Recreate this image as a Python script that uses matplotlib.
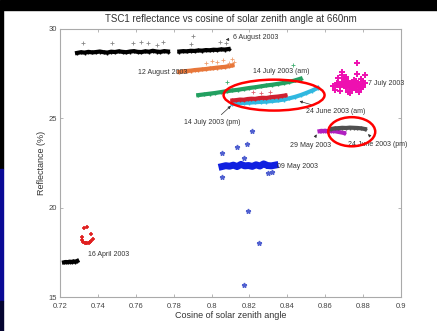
import matplotlib
matplotlib.use('Agg')
import matplotlib.pyplot as plt
from matplotlib.patches import Ellipse, Rectangle

plt.rcParams['font.family'] = ['Liberation Sans', 'DejaVu Sans']

# 6 August 2003 (black, two passes)
aug6_x = [0.729, 0.731, 0.733, 0.735, 0.737, 0.739, 0.741, 0.743, 0.745, 0.747,
          0.749, 0.751, 0.753, 0.755, 0.757, 0.759, 0.761, 0.763, 0.765, 0.767,
          0.769, 0.771, 0.773, 0.775, 0.777]
aug6_y = [28.66, 28.70, 28.68, 28.72, 28.69, 28.71, 28.74, 28.70, 28.68, 28.73,
          28.71, 28.75, 28.72, 28.70, 28.74, 28.76, 28.72, 28.71, 28.75, 28.73,
          28.78, 28.74, 28.72, 28.76, 28.74]
aug6b_x = [0.783, 0.785, 0.787, 0.789, 0.791, 0.793, 0.795, 0.797, 0.799, 0.801,
           0.803, 0.805, 0.807, 0.809]
aug6b_y = [28.74, 28.76, 28.75, 28.78, 28.77, 28.80, 28.79, 28.82, 28.81, 28.84,
           28.83, 28.86, 28.85, 28.88]
aug6_out_x = [0.732, 0.7475, 0.7585, 0.763, 0.7665, 0.771, 0.7744, 0.789, 0.790, 0.8045, 0.8075]
aug6_out_y = [29.20, 29.20, 29.20, 29.27, 29.20, 29.10, 29.27, 29.15, 29.60, 29.30, 29.20]

# 12 August 2003 (orange)
aug12_x = [0.783, 0.785, 0.787, 0.789, 0.791, 0.793, 0.795, 0.797, 0.799, 0.801,
           0.803, 0.805, 0.807, 0.809, 0.811]
aug12_y = [27.60, 27.63, 27.65, 27.67, 27.70, 27.72, 27.74, 27.76, 27.79, 27.81,
           27.84, 27.86, 27.88, 27.92, 27.96]
aug12_out_x = [0.797, 0.800, 0.803, 0.806, 0.809, 0.811, 0.812]
aug12_out_y = [28.10, 28.20, 28.15, 28.25, 28.10, 28.30, 28.15]

# 14 July 2003 am (green)
jul14am_x = [0.793, 0.796, 0.799, 0.802, 0.805, 0.808, 0.811, 0.814, 0.817, 0.820,
             0.823, 0.826, 0.829, 0.832, 0.835, 0.838, 0.841, 0.844, 0.847]
jul14am_y = [26.30, 26.34, 26.38, 26.42, 26.47, 26.52, 26.56, 26.60, 26.65, 26.70,
             26.74, 26.79, 26.84, 26.88, 26.93, 26.98, 27.04, 27.12, 27.22]
jul14am_out_x = [0.808, 0.843]
jul14am_out_y = [27.03, 27.98]

# 24 June 2003 am (cyan)
jun24am_x = [0.811, 0.814, 0.817, 0.820, 0.823, 0.826, 0.829, 0.832, 0.835, 0.838,
             0.841, 0.844, 0.847, 0.850, 0.853, 0.856]
jun24am_y = [25.82, 25.84, 25.86, 25.88, 25.90, 25.92, 25.94, 25.97, 26.00, 26.05,
             26.12, 26.20, 26.30, 26.42, 26.55, 26.70]

# 14 July 2003 pm (red)
jul14pm_x = [0.811, 0.813, 0.815, 0.817, 0.819, 0.821, 0.823, 0.825, 0.827, 0.829,
             0.831, 0.833, 0.835, 0.837, 0.839]
jul14pm_y = [26.00, 26.02, 26.05, 26.04, 26.08, 26.10, 26.09, 26.13, 26.15, 26.14,
             26.18, 26.20, 26.22, 26.25, 26.28]
jul14pm_out_x = [0.822, 0.826, 0.831]
jul14pm_out_y = [26.45, 26.40, 26.50]

# 7 July 2003 (magenta cloud)
jul7_x = [0.864, 0.866, 0.867, 0.868, 0.869, 0.870, 0.871, 0.872, 0.873, 0.874,
          0.875, 0.876, 0.877, 0.878, 0.879, 0.880, 0.881, 0.865, 0.868, 0.870,
          0.872, 0.874, 0.876, 0.878, 0.880, 0.867, 0.871, 0.875, 0.879, 0.873,
          0.869, 0.877, 0.869, 0.877, 0.881, 0.870, 0.872, 0.874, 0.876, 0.878,
          0.871, 0.873, 0.875, 0.877, 0.879, 0.866, 0.868, 0.880, 0.874, 0.876]
jul7_y = [26.80, 26.85, 26.95, 26.75, 27.05, 26.90, 26.70, 27.10, 26.85, 26.95,
          27.15, 26.80, 27.00, 26.90, 27.20, 26.85, 26.95, 26.60, 26.55, 27.20,
          26.50, 26.65, 26.60, 26.45, 27.10, 27.25, 27.30, 26.70, 26.65, 26.40,
          27.60, 27.50, 27.40, 28.10, 27.45, 26.80, 26.90, 26.80, 26.95, 26.80,
          26.95, 26.75, 26.90, 26.75, 26.85, 26.95, 26.85, 26.75, 27.05, 27.10]

# 29 May 2003 (purple) and 24 June 2003 pm (dark grey)
may29_x = [0.857, 0.858, 0.859, 0.860, 0.861, 0.862, 0.863, 0.864, 0.870]
may29_y = [24.28, 24.30, 24.29, 24.31, 24.28, 24.30, 24.29, 24.30, 24.18]
jun24pm_x = [0.863, 0.865, 0.867, 0.869, 0.871, 0.873, 0.875, 0.877, 0.879, 0.881]
jun24pm_y = [24.40, 24.44, 24.45, 24.47, 24.46, 24.48, 24.47, 24.46, 24.44, 24.40]

# 09 May 2003 (blue)
may9_x = [0.8055, 0.8075, 0.8095, 0.8115, 0.8135, 0.8155, 0.8175, 0.8195, 0.8215, 0.8235,
          0.8255, 0.8275, 0.8295, 0.8315, 0.8335]
may9_y = [22.30, 22.35, 22.32, 22.38, 22.30, 22.42, 22.34, 22.36, 22.31, 22.40,
          22.33, 22.45, 22.36, 22.34, 22.38]
may9_out_x = [0.8213, 0.8134, 0.8187, 0.8055, 0.8055, 0.817, 0.8298, 0.832, 0.819, 0.825, 0.817]
may9_out_y = [24.29, 23.40, 23.56, 23.06, 21.72, 22.78, 21.94, 21.98, 19.81, 18.02, 15.67]

# 16 April 2003 (red ring and black run)
apr16_x = [0.7316, 0.7322, 0.7330, 0.7338, 0.7345, 0.7352, 0.7360, 0.7366, 0.7372, 0.7318,
           0.7326, 0.7340, 0.7364]
apr16_y = [18.20, 18.10, 18.05, 18.02, 18.04, 18.02, 18.06, 18.15, 18.25, 18.35,
           18.85, 18.90, 18.55]
apr16b_x = [0.7221, 0.7231, 0.7241, 0.7251, 0.7261, 0.7271, 0.7281, 0.7291]
apr16b_y = [16.94, 16.96, 16.95, 16.98, 16.96, 16.99, 16.97, 17.02]

fig = plt.figure(figsize=(4.37, 3.31), dpi=100)
fig.patch.set_facecolor('white')
# slide background visible round the figure
fig.add_artist(Rectangle((0, 0.97), 1, 0.03, transform=fig.transFigure, color='black', zorder=0))
fig.add_artist(Rectangle((0, 0.49), 0.008, 0.48, transform=fig.transFigure, color='black', zorder=0))
fig.add_artist(Rectangle((0, 0.09), 0.008, 0.40, transform=fig.transFigure, color='#0a0a96', zorder=0))
fig.add_artist(Rectangle((0, 0.0), 0.008, 0.09, transform=fig.transFigure, color='#050530', zorder=0))

ax = fig.add_axes([0.1373, 0.1027, 0.7803, 0.8097])

band = dict(marker='+', ms=3.5, mew=1, lw=3)
pts = dict(marker='+', ms=2.5, mew=0.6, ls='none')

ax.plot(aug6_x, aug6_y, color='black', **band)
ax.plot(aug6b_x, aug6b_y, color='black', **band)
ax.plot(aug6_out_x, aug6_out_y, color='#888888', **pts)
ax.plot(aug12_x, aug12_y, color='#e8773a', **band)
ax.plot(aug12_out_x, aug12_out_y, color='#f0a070', **pts)
ax.plot(jul14am_x, jul14am_y, color='#22a060', **band)
ax.plot(jul14am_out_x, jul14am_out_y, color='#40b070', **pts)
ax.plot(jun24am_x, jun24am_y, color='#30b8e0', **band)
ax.plot(jul14pm_x, jul14pm_y, color='#d02030', **band)
ax.plot(jul14pm_out_x, jul14pm_out_y, color='#e06070', **pts)
ax.plot(jul7_x, jul7_y, color='#ee10b0', marker='+', ms=4, mew=1.4, ls='none')
ax.plot(may29_x, may29_y, color='#b020c0', **band)
ax.plot(jun24pm_x, jun24pm_y, color='#505050', **band)
ax.plot(may9_x, may9_y, color='#1020e0', marker='+', ms=4, mew=1.2, lw=5)
ax.plot(may9_out_x, may9_out_y, color='#5060d0', marker='*', ms=3.5, ls='none')
ax.plot(apr16_x, apr16_y, color='#e02020', marker='+', ms=3.5, mew=1.2, ls='none')
ax.plot(apr16b_x, apr16b_y, color='black', **band)

fs = 5
tc = '#333333'
arrow = dict(arrowstyle='-|>', color='#333333', lw=0.5, mutation_scale=4)
ax.annotate('6 August 2003', xy=(0.8075, 29.4), xytext=(0.8115, 29.55),
            fontsize=fs, color=tc, va='center', arrowprops=arrow)
ax.text(0.7612, 27.55, '12 August 2003', fontsize=fs, color=tc, va='center')
ax.text(0.8219, 27.6, '14 July 2003 (am)', fontsize=fs, color=tc, va='center')
ax.text(0.8826, 26.96, '7 July 2003', fontsize=fs, color=tc, va='center')
ax.annotate('24 June 2003 (am)', xy=(0.845, 26.0), xytext=(0.8498, 25.37),
            fontsize=fs, color=tc, va='center', arrowprops=arrow)
ax.annotate('14 July 2003 (pm)', xy=(0.8113, 25.8), xytext=(0.7855, 24.75),
            fontsize=fs, color=tc, va='center', arrowprops=arrow)
ax.annotate('29 May 2003', xy=(0.8562, 24.24), xytext=(0.8414, 23.5),
            fontsize=fs, color=tc, va='center', arrowprops=arrow)
ax.annotate('24 June 2003 (pm)', xy=(0.8826, 24.12), xytext=(0.872, 23.55),
            fontsize=fs, color=tc, va='center', arrowprops=arrow)
ax.text(0.8346, 22.3, '09 May 2003', fontsize=fs, color=tc, va='center')
ax.text(0.7349, 17.4, '16 April 2003', fontsize=fs, color=tc, va='center')

# highlighted groups
ax.add_patch(Ellipse((0.833, 26.3), 0.0533, 1.73, fill=False, ec='red', lw=1.8, zorder=5))
ax.add_patch(Ellipse((0.874, 24.25), 0.0248, 1.63, fill=False, ec='red', lw=1.8, zorder=5))

ax.set_xlim(0.72, 0.9)
ax.set_ylim(15, 30)
ax.set_xticks([0.72, 0.74, 0.76, 0.78, 0.8, 0.82, 0.84, 0.86, 0.88, 0.9])
ax.set_xticklabels(['0.72', '0.74', '0.76', '0.78', '0.8', '0.82', '0.84', '0.86', '0.88', '0.9'])
ax.set_yticks([15, 20, 25, 30])
ax.tick_params(direction='in', length=2, width=0.5, labelsize=5.5, colors='#999999',
               labelcolor='#444444', top=True, right=True)
ax.tick_params(axis='x', pad=4)
ax.tick_params(axis='y', pad=2)
for s in ax.spines.values():
    s.set_color('#aaaaaa')
    s.set_linewidth(0.8)

ax.set_title('TSC1 reflectance vs cosine of solar zenith angle at 660nm', fontsize=7, color='#333333', pad=5)
ax.set_xlabel('Cosine of solar zenith angle', fontsize=6.5, color='#333333', labelpad=1)
ax.set_ylabel('Reflectance (%)', fontsize=6.5, color='#333333', labelpad=2)

fig.savefig('out.png', dpi=100)
